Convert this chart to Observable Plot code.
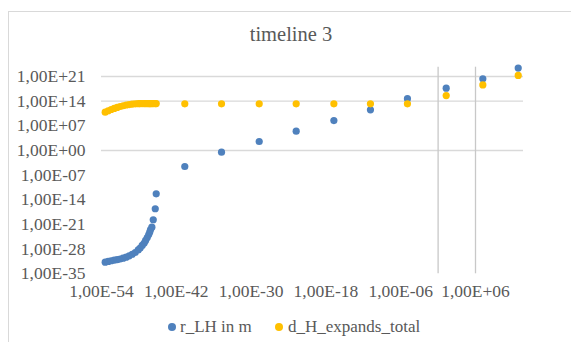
<!DOCTYPE html>
<html>
<head>
<meta charset="utf-8">
<script src="https://cdn.jsdelivr.net/npm/d3@7"></script>
<script src="https://cdn.jsdelivr.net/npm/@observablehq/plot@0.6"></script>
<style>
  html, body { margin: 0; padding: 0; background: #fff; }
  #wrap { position: relative; width: 571px; height: 342px; overflow: hidden; font-family: "Liberation Serif", "Times New Roman", serif; color: #595959; }
  #border { position: absolute; left: 8px; top: 11px; width: 600px; height: 400px; border: 1px solid #d9d9d9; box-sizing: border-box; }
  #title { position: absolute; left: 0; width: 582px; top: 22px; text-align: center; font-size: 20.5px; line-height: 24px; font-family: "Liberation Serif", serif; }
  .leg { position: absolute; top: 317px; font-size: 17px; line-height: 20px; white-space: nowrap; font-family: "Liberation Serif", serif; }
  .sw { position: absolute; width: 8px; height: 8px; border-radius: 50%; top: 323px; }
  #chart { position: absolute; left: 0; top: 0; }
</style>
</head>
<body>
<div id="wrap">
  <div id="border"></div>
  <div id="chart"></div>
  <div id="title">timeline 3</div>
  <div class="sw" style="left:168px;background:#4f81bd"></div>
  <div class="leg" style="left:180px">r_LH in m</div>
  <div class="sw" style="left:275px;background:#ffc000"></div>
  <div class="leg" style="left:288px">d_H_expands_total</div>
</div>
<script>
// dense early-time samples
const xDense = [3.9e-54, 1.2e-53, 3.6e-53, 1.1e-52, 3.3e-52, 1.0e-51, 3.0e-51, 9.1e-51, 2.8e-50, 8.5e-50,
  2.6e-49, 7.8e-49, 1.6e-48, 3.4e-48, 7.1e-48, 1.2e-47, 2.2e-47, 3.8e-47, 5.5e-47, 7.4e-47,
  1.2e-46, 2.0e-46, 4.2e-46, 6.0e-46];
const rLHDense = [2.0e-32, 3.2e-32, 5.0e-32, 7.4e-32, 1.0e-31, 1.6e-31, 2.8e-31, 5.2e-31, 1.3e-30, 3.5e-30,
  1.1e-29, 5.9e-29, 2.1e-28, 1.1e-27, 5.6e-27, 2.9e-26, 2.0e-25, 1.4e-24, 7.4e-24, 3.8e-23,
  1.7e-22, 2.2e-20, 2.9e-17, 5.1e-13];
const dHDense = [7.4e10, 1.9e11, 4.4e11, 8.9e11, 1.7e12, 3.1e12, 5.1e12, 8.1e12, 1.1e13, 1.5e13,
  1.8e13, 2.0e13, 2.1e13, 2.1e13, 2.1e13, 2.1e13, 2.1e13, 2.1e13, 2.1e13, 2.1e13,
  2.1e13, 2.1e13, 2.1e13, 2.1e13];
// sparse later samples
const xSparse = [2.3e-41, 1.8e-35, 2.0e-29, 1.7e-23, 1.9e-17, 1.4e-11, 1.2e-5, 20, 1.5e7, 7.1e12];
const rLHSparse = [2.9e-5, 0.33, 3.6e2, 3.0e5, 3.2e8, 3.5e11, 5.0e14, 5.0e17, 2.2e20, 2.5e23];
const dHSparse = [1.8e13, 1.8e13, 1.8e13, 1.8e13, 1.8e13, 1.8e13, 1.8e13, 4.0e15, 4.0e18, 2.0e21];

const xTicks = [1e-54, 1e-42, 1e-30, 1e-18, 1e-6, 1e6];
const xTickLabels = ["1,00E-54", "1,00E-42", "1,00E-30", "1,00E-18", "1,00E-06", "1,00E+06"];
const yTicks = [1e21, 1e14, 1e7, 1e0, 1e-7, 1e-14, 1e-21, 1e-28, 1e-35];
const yTickLabels = ["1,00E+21", "1,00E+14", "1,00E+07", "1,00E+00", "1,00E-07", "1,00E-14", "1,00E-21", "1,00E-28", "1,00E-35"];
const hGrid = [1e21, 1e14, 1e0];
const vGrid = [1e0, 1e6];

const xAll = xDense.concat(xSparse);
const rAll = rLHDense.concat(rLHSparse);
const dAll = dHDense.concat(dHSparse);
const blue = xAll.map((x, i) => ({x, y: rAll[i]}));
const yellow = xAll.map((x, i) => ({x, y: dAll[i]}));

const xLabelOf = d => xTickLabels[xTicks.indexOf(d)];
const yLabelOf = d => yTickLabels[yTicks.indexOf(d)];

const chart = Plot.plot({
  width: 571,
  height: 342,
  marginLeft: 101,
  marginRight: 48,
  marginTop: 66.7,
  marginBottom: 68.7,
  style: {fontFamily: "'Liberation Serif', 'Times New Roman', serif", fontSize: "17.5px", color: "#595959", background: "transparent"},
  x: {type: "log", domain: [1e-54, 5e13]},
  y: {type: "log", domain: [1e-35, 4.4e23]},
  marks: [
    Plot.ruleY(hGrid, {stroke: "#d9d9d9", strokeWidth: 1.3}),
    Plot.ruleX(vGrid, {stroke: "#c8c8c8", strokeWidth: 1.3}),
    Plot.axisX({ticks: xTicks, tickSize: 0, tickPadding: 11, tickFormat: xLabelOf, label: null, fontSize: 17.5}),
    Plot.axisY({ticks: yTicks, tickSize: 0, tickPadding: 16, tickFormat: yLabelOf, label: null, fontSize: 17.5}),
    Plot.dot(blue, {x: "x", y: "y", r: 3.6, fill: "#4f81bd", stroke: "none"}),
    Plot.dot(yellow, {x: "x", y: "y", r: 3.6, fill: "#ffc000", stroke: "none"})
  ]
});
document.getElementById("chart").appendChild(chart);
</script>
</body>
</html>
